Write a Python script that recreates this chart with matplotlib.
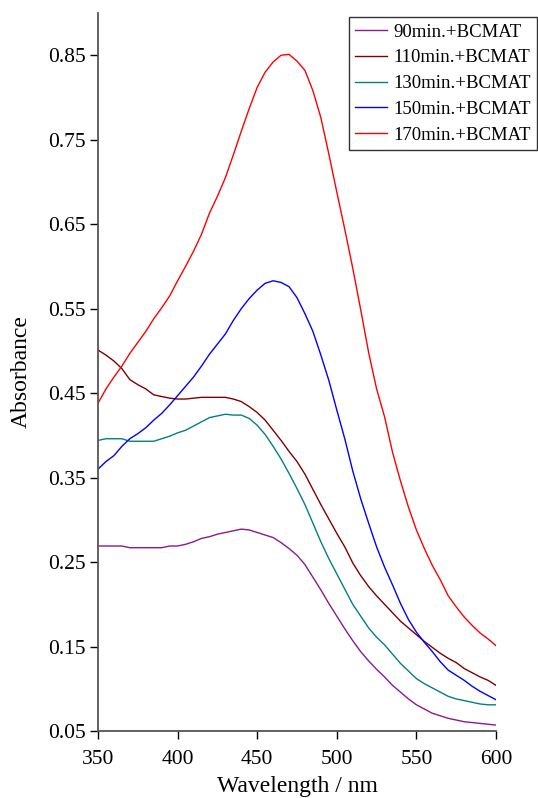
import matplotlib
matplotlib.use("Agg")
import matplotlib.pyplot as plt
import numpy as np

wavelength = list(range(350, 601, 5))

a90 = [0.269, 0.269, 0.269, 0.269, 0.267, 0.267, 0.267, 0.267, 0.267, 0.269,
       0.269, 0.271, 0.274, 0.278, 0.280, 0.283, 0.285, 0.287, 0.289, 0.288,
       0.285, 0.282, 0.279, 0.273, 0.266, 0.258, 0.247, 0.232, 0.217, 0.201,
       0.186, 0.171, 0.157, 0.144, 0.133, 0.123, 0.114, 0.104, 0.096, 0.088,
       0.081, 0.076, 0.071, 0.068, 0.065, 0.063, 0.061, 0.060, 0.059, 0.058, 0.057]

a110 = [0.501, 0.495, 0.488, 0.479, 0.466, 0.460, 0.455, 0.448, 0.446, 0.444,
        0.443, 0.443, 0.444, 0.445, 0.445, 0.445, 0.445, 0.443, 0.440, 0.434,
        0.427, 0.418, 0.406, 0.394, 0.381, 0.369, 0.354, 0.336, 0.318, 0.301,
        0.284, 0.268, 0.249, 0.234, 0.221, 0.210, 0.200, 0.190, 0.180, 0.172,
        0.164, 0.156, 0.149, 0.142, 0.136, 0.131, 0.124, 0.119, 0.114, 0.110, 0.104]

a130 = [0.394, 0.396, 0.396, 0.396, 0.393, 0.393, 0.393, 0.393, 0.396, 0.399,
        0.403, 0.406, 0.411, 0.416, 0.421, 0.423, 0.425, 0.424, 0.424, 0.420,
        0.412, 0.401, 0.387, 0.372, 0.355, 0.337, 0.318, 0.296, 0.274, 0.254,
        0.236, 0.218, 0.200, 0.186, 0.172, 0.161, 0.152, 0.141, 0.130, 0.121,
        0.112, 0.106, 0.101, 0.096, 0.091, 0.088, 0.086, 0.084, 0.082, 0.081, 0.081]

a150 = [0.360, 0.369, 0.376, 0.387, 0.396, 0.402, 0.409, 0.418, 0.426, 0.436,
        0.447, 0.458, 0.469, 0.482, 0.496, 0.508, 0.520, 0.536, 0.550, 0.562,
        0.572, 0.580, 0.583, 0.581, 0.576, 0.563, 0.544, 0.523, 0.495, 0.465,
        0.430, 0.396, 0.358, 0.325, 0.296, 0.268, 0.244, 0.223, 0.201, 0.182,
        0.167, 0.155, 0.144, 0.132, 0.122, 0.116, 0.110, 0.103, 0.097, 0.092, 0.087]

a170 = [0.438, 0.455, 0.469, 0.482, 0.497, 0.510, 0.523, 0.538, 0.551, 0.565,
        0.583, 0.600, 0.618, 0.638, 0.663, 0.683, 0.705, 0.732, 0.760, 0.787,
        0.812, 0.830, 0.842, 0.850, 0.851, 0.843, 0.832, 0.808, 0.776, 0.733,
        0.688, 0.644, 0.598, 0.549, 0.498, 0.455, 0.422, 0.380, 0.346, 0.315,
        0.288, 0.266, 0.246, 0.229, 0.210, 0.197, 0.185, 0.175, 0.166, 0.159, 0.151]

labels = ["90min.+BCMAT", "110min.+BCMAT", "130min.+BCMAT", "150min.+BCMAT", "170min.+BCMAT"]
colors = ["#8B1A8B", "#800000", "#008080", "#0000FF", "#FF0000"]
series = [a90, a110, a130, a150, a170]

xticks = [350, 400, 450, 500, 550, 600]
yticks = [0.05, 0.15, 0.25, 0.35, 0.45, 0.55, 0.65, 0.75, 0.85]

plt.rcParams['font.family'] = ['Liberation Serif', 'DejaVu Serif']

W, H = 538, 798
fig = plt.figure(figsize=(W / 100, H / 100), dpi=100)
ax = fig.add_axes([98 / W, 1 - 731 / H, (496 - 98) / W, (731 - 13) / H])

for y, c, lab in zip(series, colors, labels):
    ax.plot(wavelength, y, color=c, lw=1.0, label=lab)

ax.set_xlim(350, 600)
ax.set_ylim(0.05, 0.90)
ax.set_xticks(xticks)
ax.set_yticks(yticks)
ax.set_xticklabels([str(t) for t in xticks])
ax.set_yticklabels([f"{t:.2f}" for t in yticks])
ax.tick_params(axis='both', direction='out', length=6, width=1, labelsize=15.5, color='black')
ax.tick_params(axis='x', pad=8)
ax.tick_params(axis='y', pad=3)
for s in ['top', 'right']:
    ax.spines[s].set_visible(False)
for s in ['left', 'bottom']:
    ax.spines[s].set_color('#555555')
    ax.spines[s].set_linewidth(1.3)

ax.set_xlabel("Wavelength / nm", fontsize=17, labelpad=5)
ax.set_ylabel("Absorbance", fontsize=17)
ax.yaxis.set_label_coords((32 - 98) / (496 - 98), 0.5)

leg = ax.legend(loc='upper right', bbox_to_anchor=(537 / W, 1 - 17 / H),
                bbox_transform=fig.transFigure, borderaxespad=0,
                fontsize=13.5, frameon=True, fancybox=False, edgecolor='black',
                handlelength=1.7, handletextpad=0.3, labelspacing=0.46,
                borderpad=0.35)
leg.get_frame().set_linewidth(1.0)

fig.savefig("out.png", dpi=100)
